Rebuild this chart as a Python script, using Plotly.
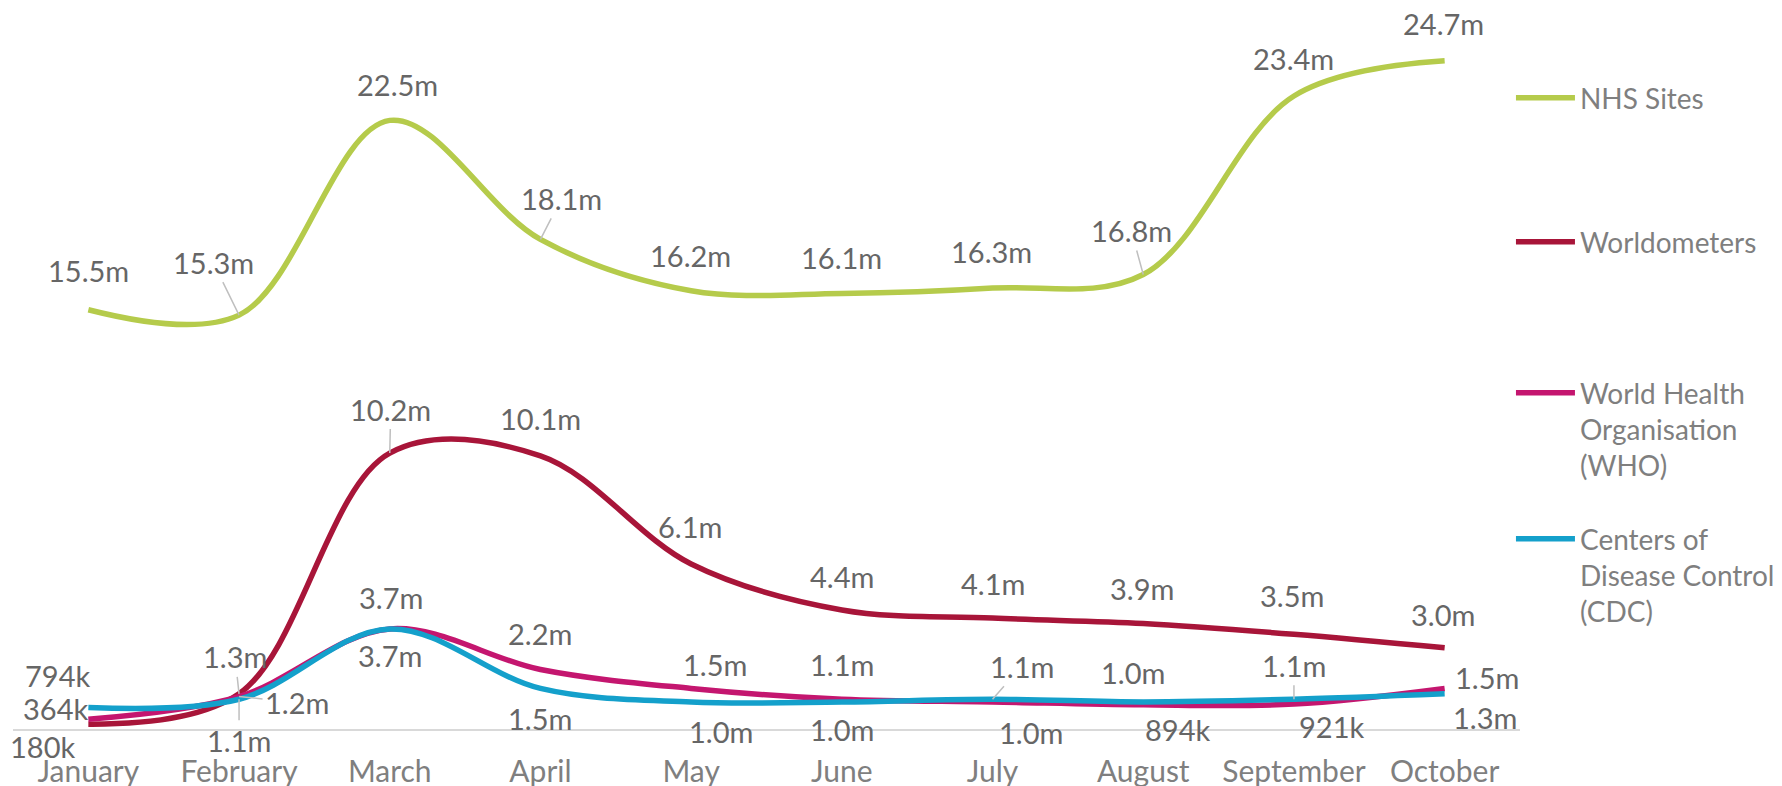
import plotly.graph_objects as go

months = ["January", "February", "March", "April", "May", "June",
          "July", "August", "September", "October"]

# values in millions
nhs_sites = [15.5, 15.3, 22.5, 18.1, 16.2, 16.1, 16.3, 16.8, 23.4, 24.7]
worldometers = [0.180, 1.3, 10.2, 10.1, 6.1, 4.4, 4.1, 3.9, 3.5, 3.0]
who = [0.364, 1.2, 3.7, 2.2, 1.5, 1.1, 1.0, 0.894, 0.921, 1.5]
cdc = [0.794, 1.1, 3.7, 1.5, 1.0, 1.0, 1.1, 1.0, 1.1, 1.3]

series_names = ["NHS Sites", "Worldometers",
                "World Health<br>Organisation<br>(WHO)",
                "Centers of<br>Disease Control<br>(CDC)"]
series_values = [nhs_sites, worldometers, who, cdc]
series_colors = ["#B5CB4B", "#A81539", "#C4166F", "#14A0CB"]

# label placement (pixel offsets from point) and leader-line flags -- styling only
label_offsets = [
    [(0, -39), (-26, -53), (8, -36), (21, -41), (-1, -35), (0, -36), (-1, -37), (-12, -44), (0, -38), (-1, -37)],
    [(-46, 22), (-4, -37), (1, -44), (0, -37), (-1, -37), (0, -33), (0, -35), (-1, -35), (-2, -39), (-2, -33)],
    [(-33, -11), (58, 6), (1, -31), (0, -36), (24, -24), (0, -35), (38, 31), (34, 25), (38, 22), (42, -11)],
    [(-31, -32), (0, 41), (0, 27), (0, 30), (30, 30), (0, 28), (29, -33), (-10, -29), (0, -34), (40, 24)],
]
leaders = [
    [0, 1, 0, 1, 0, 0, 0, 1, 0, 0],
    [0, 1, 1, 0, 0, 0, 0, 0, 0, 0],
    [0, 1, 0, 0, 0, 0, 0, 0, 0, 0],
    [0, 1, 0, 0, 0, 0, 1, 0, 1, 0],
]
legend_ys = [0.8776, 0.6773, 0.4166, 0.2135]


def fmt(v):
    if v < 1:
        return f"{round(v * 1000)}k"
    return f"{v:.1f}m"


FONT = "Lato, 'Open Sans', sans-serif"
fig = go.Figure()
legend_ids = ["legend", "legend2", "legend3", "legend4"]
for i, (name, vals, col) in enumerate(zip(series_names, series_values, series_colors)):
    fig.add_trace(go.Scatter(
        x=months, y=vals, name=name, mode="lines",
        line=dict(color=col, width=5.5, shape="spline", smoothing=1.0),
        legend=legend_ids[i], hoverinfo="skip",
    ))

annotations = []
for s, vals in enumerate(series_values):
    for j, v in enumerate(vals):
        dx, dy = label_offsets[s][j]
        annotations.append(dict(
            x=months[j], y=v, xref="x", yref="y", text=fmt(v),
            showarrow=True, ax=dx, ay=dy, axref="pixel", ayref="pixel",
            arrowhead=0, arrowwidth=1.5, standoff=0, borderpad=2,
            arrowcolor="#BFBFBF" if leaders[s][j] else "rgba(0,0,0,0)",
            font=dict(family=FONT, size=29, color="#666666"),
        ))

layout_legends = {}
for i, lid in enumerate(legend_ids):
    layout_legends[lid] = dict(
        x=0.994, y=legend_ys[i], xanchor="left", yanchor="middle",
        valign="top", bgcolor="rgba(0,0,0,0)", itemwidth=59,
        font=dict(family=FONT, size=28, color="#7F7F7F"),
    )

fig.update_layout(
    width=1782, height=786,
    margin=dict(l=13, r=262, t=10, b=57, autoexpand=False),
    paper_bgcolor="white", plot_bgcolor="white",
    showlegend=True,
    annotations=annotations,
    xaxis=dict(
        type="category", range=[-0.5, 9.5], showgrid=False, zeroline=False,
        showline=True, linecolor="#D9D9D9", linewidth=2, ticks="",
        ticklabelstandoff=15, automargin=False,
        tickfont=dict(family=FONT, size=30, color="#7F7F7F"),
    ),
    yaxis=dict(range=[0, 26.58], visible=False, showgrid=False, zeroline=False,
               automargin=False),
    **layout_legends,
)
fig.update_xaxes(fixedrange=True)

fig.write_html("out.html")
